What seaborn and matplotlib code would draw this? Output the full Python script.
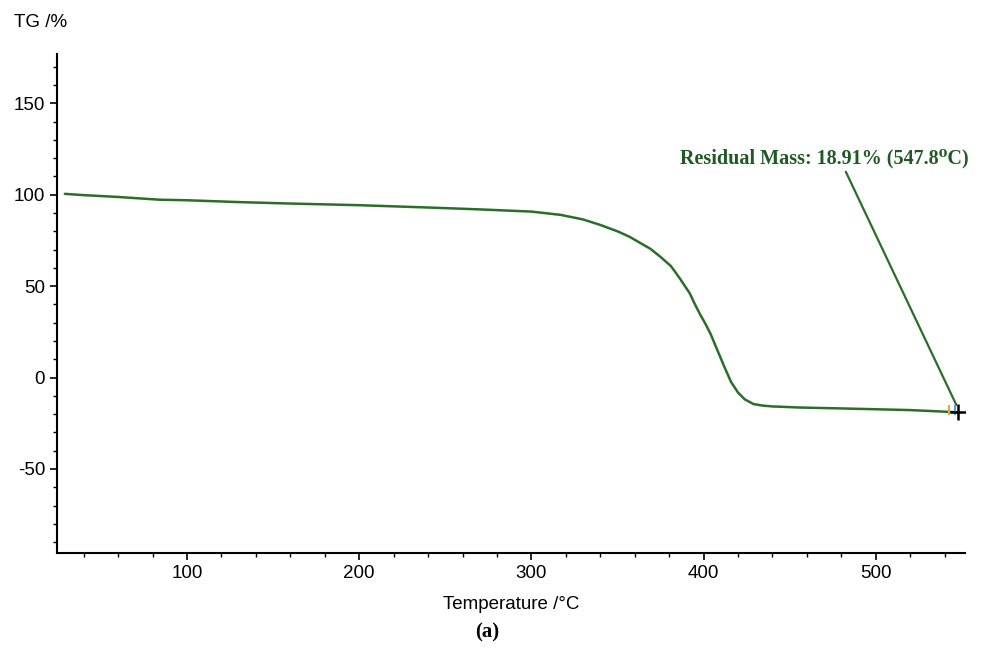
import numpy as np
import pandas as pd
import seaborn as sns
import matplotlib
matplotlib.use("Agg")
import matplotlib.pyplot as plt
from matplotlib.ticker import MultipleLocator

sns.set_style("ticks")
plt.rcParams['font.family'] = ['Liberation Sans', 'DejaVu Sans']
plt.rcParams['axes.unicode_minus'] = False
plt.rcParams['text.color'] = 'black'
plt.rcParams['axes.labelcolor'] = 'black'

# TG curve
temp = [29, 40, 60, 84, 100, 130, 160, 200, 241, 270, 300, 317, 330, 340, 350,
        357, 369, 375, 381, 386, 392, 395, 398, 401, 404, 408, 412, 416, 420,
        424, 429, 434, 440, 456, 485, 520, 547.8]
mass = [100.5, 99.8, 98.8, 97.3, 97.0, 96.0, 95.2, 94.3, 93.0, 92.0, 90.8,
        89.0, 86.5, 83.5, 80.0, 77.0, 70.5, 66.0, 61.0, 54.5, 46.0, 40.0,
        34.5, 29.5, 24.0, 15.0, 6.0, -2.5, -8.2, -12.0, -14.5, -15.3, -15.8,
        -16.4, -17.0, -17.8, -19.0]
end_temp = 547.8
end_mass = -19.0
label_text = "Residual Mass: 18.91% (547.8\u2070C)"

df = pd.DataFrame({"Temperature": temp, "TG": mass})

green = "#2a6e2a"
text_green = "#1f5a24"

fig = plt.figure(figsize=(9.81, 6.51), dpi=100)
ax = fig.add_axes([0.058, 0.1505, 0.926, 0.7665])

sns.lineplot(data=df, x="Temperature", y="TG", ax=ax, color=green, linewidth=1.8)

# leader line from the label down to the end point
ax.plot([482.6, end_temp - 1.0], [112.6, end_mass + 4], color=green, lw=1.6)
# small cursor marks near the end point
ax.plot([542.5], [end_mass + 1.5], marker="|", color="#e8a040", markersize=7, mew=1.5)
ax.plot([546.0], [end_mass + 1.5], marker="|", color="#5aa0d8", markersize=7, mew=1.5)
# end point marker
ax.plot([end_temp], [end_mass], marker="+", color="black", markersize=11, mew=1.8)

ax.text(470, 120, label_text, ha="center", va="center",
        fontsize=14.5, fontweight="bold", color=text_green,
        family=['Liberation Serif', 'DejaVu Serif'])

ax.set_xlim(24.4, 552)
ax.set_ylim(-96, 177)
ax.xaxis.set_major_locator(MultipleLocator(100))
ax.xaxis.set_minor_locator(MultipleLocator(20))
ax.yaxis.set_major_locator(MultipleLocator(50))
ax.yaxis.set_minor_locator(MultipleLocator(10))
ax.tick_params(which="major", length=5, width=1.2, labelsize=13.5, colors="black")
ax.tick_params(which="minor", length=3, width=1.0, colors="black")
sns.despine(ax=ax)
for s in ("left", "bottom"):
    ax.spines[s].set_linewidth(1.5)
    ax.spines[s].set_color("black")

ax.set_xlabel("Temperature /\u00b0C", fontsize=13.5, labelpad=10)
ax.set_ylabel("")
fig.text(0.014, 0.965, "TG /%", fontsize=13.5, ha="left", va="center")
fig.text(0.497, 0.028, "(a)", fontsize=15, fontweight="bold", ha="center", va="center",
         family=['Liberation Serif', 'DejaVu Serif'])

fig.savefig("out.png", dpi=100)
